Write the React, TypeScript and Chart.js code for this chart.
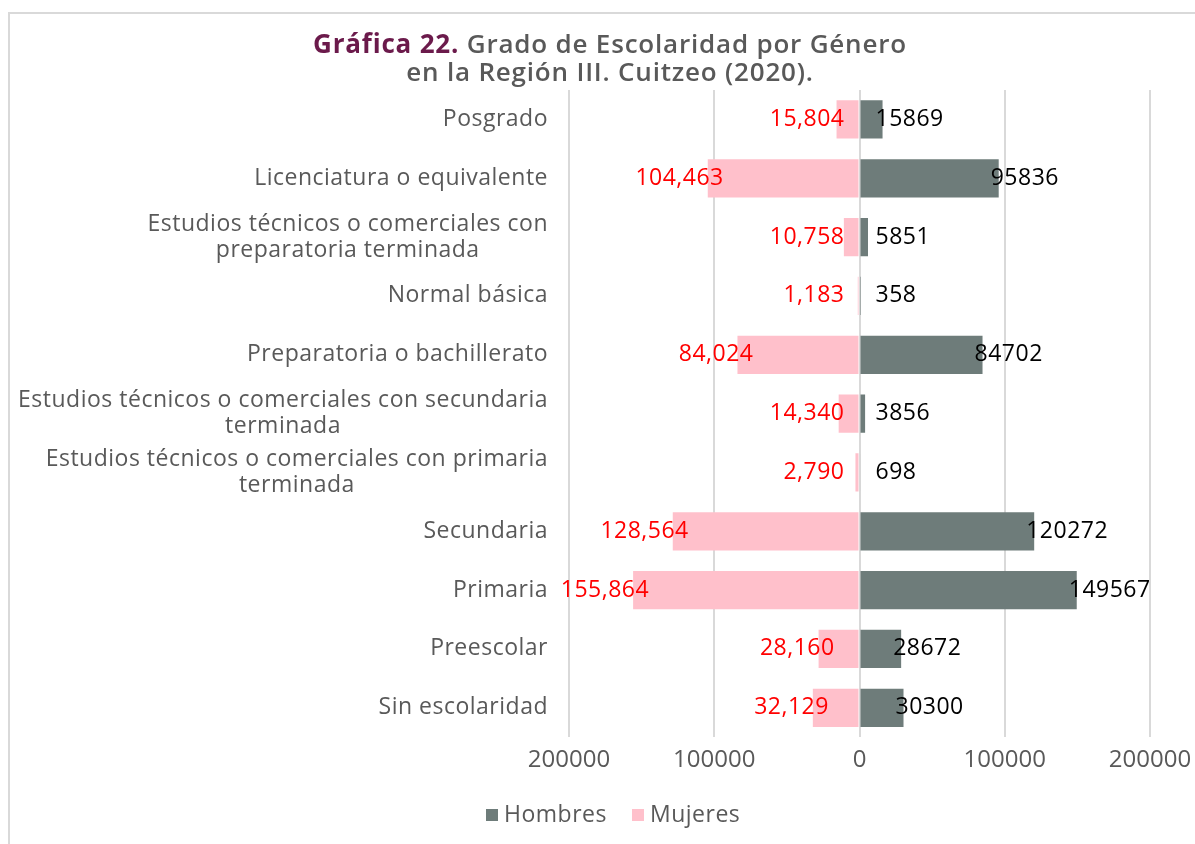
import React, { useEffect, useRef } from 'react';
import { Chart, registerables } from 'chart.js';

Chart.register(...registerables);

const categories: string[][] = [
  ['Posgrado'],
  ['Licenciatura o equivalente'],
  ['Estudios técnicos o comerciales con', 'preparatoria terminada'],
  ['Normal básica'],
  ['Preparatoria o bachillerato'],
  ['Estudios técnicos o comerciales con secundaria', 'terminada'],
  ['Estudios técnicos o comerciales con primaria', 'terminada'],
  ['Secundaria'],
  ['Primaria'],
  ['Preescolar'],
  ['Sin escolaridad'],
];
const hombres = [15869, 95836, 5851, 358, 84702, 3856, 698, 120272, 149567, 28672, 30300];
const mujeres = [15804, 104463, 10758, 1183, 84024, 14340, 2790, 128564, 155864, 28160, 32129];
const seriesNames = ['Hombres', 'Mujeres'];
const xMin = -200000;
const xMax = 200000;
const xStep = 100000;
const titleBold = 'Gráfica 22.';
const titleRest = ' Grado de Escolaridad por Género';
const titleLine2 = 'en la Región III. Cuitzeo (2020).';

const FONT = '"Open Sans"';
const GRAY = '#595959';
const C_H = '#6e7c7a';
const C_M = '#ffc0cb';

const fmtComma = (v: number) => v.toLocaleString('en-US');

const drawPlugin = {
  id: 'customDraw',
  afterDraw(chart: any) {
    const ctx = chart.ctx as any;
    const xs = chart.scales.x;
    const ys = chart.scales.y;
    ctx.save();
    // Title
    ctx.textBaseline = 'middle';
    ctx.letterSpacing = '0.8px';
    ctx.font = `700 26px ${FONT}`;
    const w1 = ctx.measureText(titleBold).width;
    ctx.font = `600 26px ${FONT}`;
    const w2 = ctx.measureText(titleRest).width;
    const cx = 610;
    const x0 = cx - (w1 + w2) / 2;
    ctx.textAlign = 'left';
    ctx.font = `700 26px ${FONT}`;
    ctx.fillStyle = '#6b1a4b';
    ctx.fillText(titleBold, x0, 46);
    ctx.font = `600 26px ${FONT}`;
    ctx.fillStyle = GRAY;
    ctx.fillText(titleRest, x0 + w1, 46);
    ctx.textAlign = 'center';
    ctx.fillText(titleLine2, cx, 74);

    // Category labels
    ctx.letterSpacing = '0.5px';
    ctx.font = `400 23px ${FONT}`;
    ctx.fillStyle = GRAY;
    const rightEdge = xs.left - 21;
    categories.forEach((lines, i) => {
      const cy = ys.getPixelForValue(i);
      const bw = Math.max(...lines.map((l) => ctx.measureText(l).width));
      const lh = 26;
      const startY = cy - ((lines.length - 1) * lh) / 2;
      lines.forEach((l, j) => {
        ctx.textAlign = 'center';
        ctx.fillText(l, rightEdge - bw / 2, startY + j * lh);
      });
    });

    // Data labels
    const zero = xs.getPixelForValue(0);
    ctx.font = `400 23px ${FONT}`;
    hombres.forEach((v, i) => {
      const cy = ys.getPixelForValue(i);
      const px = xs.getPixelForValue(v);
      ctx.fillStyle = '#000000';
      ctx.textAlign = 'left';
      ctx.fillText(String(v), Math.max(px - 8, zero + 16), cy);
    });
    mujeres.forEach((v, i) => {
      const cy = ys.getPixelForValue(i);
      const px = xs.getPixelForValue(-v);
      ctx.fillStyle = '#ff0000';
      ctx.textAlign = 'right';
      ctx.fillText(fmtComma(v), Math.min(px + 16, zero - 15), cy);
    });

    // Legend
    const ly = 815;
    ctx.font = `400 23px ${FONT}`;
    ctx.textAlign = 'left';
    const items = [
      { name: seriesNames[0], color: C_H, x: 486 },
      { name: seriesNames[1], color: C_M, x: 632 },
    ];
    items.forEach((it) => {
      ctx.fillStyle = it.color;
      ctx.fillRect(it.x, ly - 6, 12, 12);
      ctx.fillStyle = GRAY;
      ctx.fillText(it.name, it.x + 18, ly);
    });
    ctx.restore();
  },
};

export default function App() {
  const ref = useRef<HTMLCanvasElement | null>(null);
  useEffect(() => {
    if (!ref.current) return;
    const chart = new Chart(ref.current, {
      type: 'bar',
      data: {
        labels: categories.map((c) => c.join(' ')),
        datasets: [
          {
            label: seriesNames[0],
            data: hombres,
            backgroundColor: C_H,
            barPercentage: 0.65,
            categoryPercentage: 1,
          },
          {
            label: seriesNames[1],
            data: mujeres.map((v) => -v),
            backgroundColor: C_M,
            barPercentage: 0.65,
            categoryPercentage: 1,
          },
        ],
      },
      options: {
        indexAxis: 'y',
        responsive: false,
        animation: false,
        devicePixelRatio: 1,
        layout: { padding: { top: 90, left: 569, right: 45, bottom: 60 } },
        scales: {
          x: {
            type: 'linear',
            stacked: true,
            min: xMin,
            max: xMax,
            ticks: {
              stepSize: xStep,
              callback: (v: any) => String(Math.abs(Number(v))),
              font: { family: 'Open Sans', size: 24 },
              color: GRAY,
              padding: 9,
              maxRotation: 0,
            },
            grid: { color: '#d9d9d9', lineWidth: 2, drawTicks: false },
            border: { display: false },
            afterFit: (scale: any) => {
              scale.paddingLeft = 0;
              scale.paddingRight = 0;
            },
          },
          y: {
            type: 'category',
            stacked: true,
            display: false,
          },
        },
        plugins: {
          legend: { display: false },
          tooltip: { enabled: false },
          title: { display: false },
        },
      },
      plugins: [drawPlugin],
    } as any);
    return () => chart.destroy();
  }, []);

  return (
    <>
      <div
        style={{
          position: 'absolute',
          left: 8,
          top: 12,
          width: 1187,
          height: 832,
          borderLeft: '2px solid #d9d9d9',
          borderTop: '2px solid #d9d9d9',
          boxSizing: 'border-box',
        }}
      />
      <canvas
        ref={ref}
        width={1195}
        height={844}
        style={{ position: 'absolute', left: 0, top: 0, width: 1195, height: 844 }}
      />
    </>
  );
}
